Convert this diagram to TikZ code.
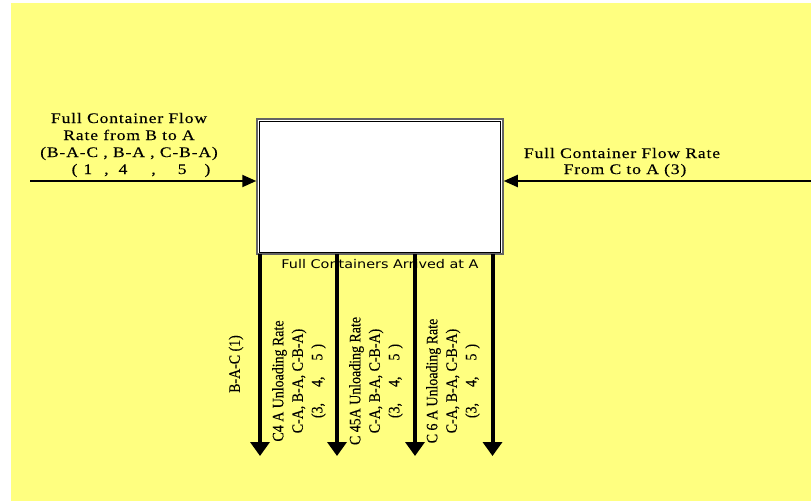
\documentclass[tikz,border=0pt]{standalone}
\usepackage{fontspec}
\setmainfont{Liberation Serif}
\newfontfamily\hfont[FakeStretch=1.2,LetterSpace=6,FakeBold=0.3]{Liberation Serif}
\newfontfamily\vfont[FakeStretch=0.87,FakeBold=0.2]{Liberation Serif}
\newfontfamily\sansf[FakeStretch=1.2]{DejaVu Sans}
\usetikzlibrary{arrows.meta}
\definecolor{bgyellow}{RGB}{255,255,128}
\definecolor{boxgray}{RGB}{100,100,100}
\tikzset{
  hlabel/.style={align=center,font=\hfont\fontsize{14.6}{17}\selectfont,inner sep=0pt},
  vlabel/.style={align=center,rotate=90,font=\vfont\fontsize{16}{19.5}\selectfont,inner sep=0pt},
  harrow/.style={line width=2pt,-{Triangle[length=14pt,width=12pt]}},
  varrow/.style={line width=4pt,-{Triangle[length=14pt,width=19pt]}},
}
\begin{document}
\begin{tikzpicture}[x=1pt,y=-1pt]
\useasboundingbox (0,0) rectangle (811,501);
\fill[bgyellow] (11,3) rectangle (811,501);
% box
\node[draw=boxgray,line width=1.5pt,fill=white,minimum width=246pt,minimum height=135pt,inner sep=0pt] (box) at (380,186.5) {};
\draw[black,line width=1pt] ([shift={(3.5,3)}]box.north west) rectangle ([shift={(-3.5,-2.5)}]box.south east);
% horizontal arrows
\coordinate (lstart) at (30,181);
\coordinate (rstart) at (811,181);
\draw[harrow] (lstart) -- (lstart -| box.west);
\draw[harrow] (rstart) -- (rstart -| box.east);
% vertical arrows
\foreach \i/\x in {1/260,2/337,3/415,4/492.5}{
  \coordinate (t\i) at (\x,254);
  \coordinate (e\i) at (\x,456);
  \draw[varrow] (t\i) -- (e\i);
}
% labels
\node[hlabel] (lbl) at (129,145) {Full Container Flow\\Rate from B to A\\(B-A-C , B-A , C-B-A)\\\hspace*{24pt}(\hspace{6pt}1\hspace{12pt},\hspace{10pt}4\hspace{24pt},\hspace{22pt}5\hspace{18pt})};
\node[hlabel,font=\hfont\fontsize{14.6}{16}\selectfont] (rlbl) at (622,162.5) {Full Container Flow Rate\\\hspace*{6pt}From C to A (3)};
\node[font=\sansf\fontsize{12}{13}\selectfont,inner sep=0pt] (arr) at (380,264) {Full Containers Arrived at A};
\node[vlabel] (v0) at (236,364) {B-A-C (1)};
\node[vlabel] (v1) at (299,381) {C4 A Unloading Rate\\C-A, B-A, C-B-A)\\(3,\hspace{16pt}4,\hspace{16pt}5\hspace{5pt})};
\node[vlabel] (v2) at (376,381) {C 45A Unloading Rate\\C-A, B-A, C-B-A)\\(3,\hspace{16pt}4,\hspace{16pt}5\hspace{5pt})};
\node[vlabel] (v3) at (453,381) {C 6 A Unloading Rate\\C-A, B-A, C-B-A)\\(3,\hspace{16pt}4,\hspace{16pt}5\hspace{5pt})};
\end{tikzpicture}
\end{document}
